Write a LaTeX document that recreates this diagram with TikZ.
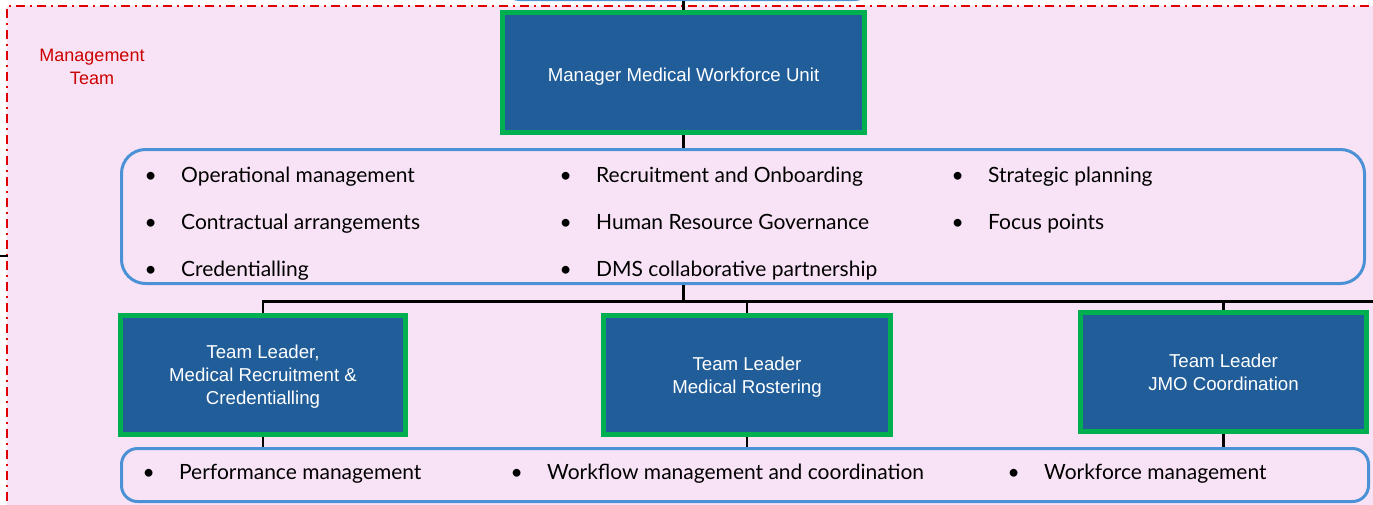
\documentclass[tikz,border=0pt]{standalone}
\usepackage{fontspec}
\setmainfont{Lato}
\newfontfamily\boxfont{Liberation Sans}
\usetikzlibrary{positioning}

\newcommand{\bulletitem}[1]{\makebox[27.5pt][l]{\textbullet}#1}

\tikzset{every picture/.style={line width=0.75pt}}
\tikzset{
  leadbox/.style={draw={rgb, 255:red, 0; green, 176; blue, 80 }, line width=3.75pt,
    fill={rgb, 255:red, 33; green, 94; blue, 153 }, text=white, align=center, text depth=0pt,
    font=\boxfont\fontsize{14}{17.25}\selectfont, inner sep=0pt},
  dutybox/.style={draw={rgb, 255:red, 74; green, 145; blue, 214 }, line width=2.25pt,
    rounded corners=18pt, inner sep=0pt},
  item/.style={anchor=base west, inner sep=0pt, font=\fontsize{15.75}{18}\selectfont},
  link/.style={draw={rgb, 255:red, 0; green, 0; blue, 0 }, line width=1.9pt}
}

\begin{document}
\begin{tikzpicture}[x=0.75pt,y=0.75pt,yscale=-1,xscale=1]
\useasboundingbox (0,0) rectangle (1373,504);
\clip (0,0) rectangle (1373,504);

% Team area
\fill [fill={rgb, 255:red, 248; green, 227; blue, 246 }] (7,6) rectangle (1390,520);
\draw [draw={rgb, 255:red, 224; green, 0; blue, 0 }, line width=1.5pt,
  dash pattern=on 6.75pt off 3.75pt on 1.5pt off 3.75pt] (1390,6) -- (7,6) -- (7,520);
\node [text={rgb, 255:red, 204; green, 0; blue, 0 }, align=center, font=\boxfont\fontsize{13.5}{17.25}\selectfont] (teamlabel) at (92,67) {Management\\Team};

% Box above (cut off)
\node [dutybox, minimum width=279pt, minimum height=60pt, rounded corners=14pt] (topbox) at (687,-40.5) {};

% Manager
\node [leadbox, minimum width=271.5pt, minimum height=90pt] (manager) at (683.5,72.5) {\raisebox{-3.5pt}{Manager Medical Workforce Unit}};

% Management duties
\node [dutybox, minimum width=932.25pt, minimum height=100.5pt] (mgrduties) at (743,216.5) {};
\node [item] (op) at (144,182) {\bulletitem{Operational management}};
\node [item] (contract) at (144,229) {\bulletitem{Contractual arrangements}};
\node [item] (cred) at (144,276) {\bulletitem{Credentialling}};
\node [item] (recruit) at (559,182) {\bulletitem{Recruitment and Onboarding}};
\node [item] (hrgov) at (559,229) {\bulletitem{Human Resource Governance}};
\node [item] (dms) at (559,276) {\bulletitem{DMS collaborative partnership}};
\node [item] (strat) at (951,182) {\bulletitem{Strategic planning}};
\node [item] (focus) at (951,229) {\bulletitem{Focus points}};

% Team leaders
\node [leadbox, minimum width=213.75pt, minimum height=89.25pt] (leadrec) at (263,375) {Team Leader,\\Medical Recruitment \&\\Credentialling};
\node [leadbox, minimum width=215.25pt, minimum height=89.25pt] (leadrost) at (747,375) {Team Leader\\Medical Rostering};
\node [leadbox, minimum width=214.5pt, minimum height=89.25pt] (leadjmo) at (1223.5,372) {Team Leader\\JMO Coordination};

% Team leader duties
\node [dutybox, minimum width=935.25pt, minimum height=39.75pt, rounded corners=12pt] (leadduties) at (745,475) {};
\node [item] (perf) at (142,479) {\bulletitem{Performance management}};
\node [item] (workflow) at (510,479) {\bulletitem{Workflow management and coordination}};
\node [item] (wfm) at (1007,479) {\bulletitem{Workforce management}};

% Connections
\coordinate (busend) at (1390,301.5);
\coordinate (leftin) at (0,256);
\coordinate (leftout) at (8,256);
\draw [link] (manager.north |- topbox.south) -- (manager.north);
\draw [link] (manager.south) -- (manager.south |- mgrduties.north);
\draw [link] (manager.south |- mgrduties.south) -- (manager.south |- busend);
\draw [link, line width=2.8pt] (manager.south |- busend) -- (busend);
\draw [link] (manager.south |- busend) -| (leadrec.north);
\draw [link] (leadrost.north) -- (leadrost.north |- busend);
\draw [link] (leadjmo.north) -- (leadjmo.north |- busend);
\draw [link] (leadrec.south) -- (leadrec.south |- leadduties.north);
\draw [link] (leadrost.south) -- (leadrost.south |- leadduties.north);
\draw [link] (leadjmo.south) -- (leadjmo.south |- leadduties.north);
\draw [link] (leftin) -- (leftout);

\end{tikzpicture}
\end{document}
